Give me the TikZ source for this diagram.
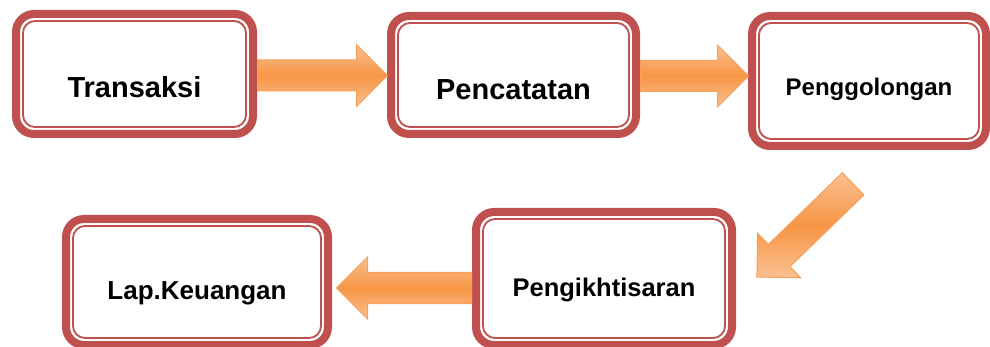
\documentclass[tikz,border=0pt]{standalone}
\usepackage{fontspec}
\setmainfont{Liberation Sans}
\usepackage{xcolor}
\usepackage{tikz}
\usetikzlibrary{shapes.arrows}
\definecolor{boxred}{HTML}{C0504D}
\definecolor{arrowdark}{HTML}{F79646}
\definecolor{arrowlight}{HTML}{FAC090}
\definecolor{arrowedge}{HTML}{F8A05A}
\tikzset{
    stage/.style={shape=rectangle, draw=boxred, line width=8pt, rounded corners=18pt, fill=white},
    stageinner/.style={draw=boxred, line width=1.8pt, rounded corners=12pt},
    stagetext/.style={text=black, inner sep=2pt},
    flow/.style={shape=single arrow, draw=arrowedge, line width=1pt, inner sep=15pt,
        single arrow head extend=15.5pt, single arrow tip angle=90,
        top color=arrowlight, bottom color=arrowlight, middle color=arrowdark,
        sloped, allow upside down, pos=0, anchor=tail}}

\begin{document}
\begin{tikzpicture}[x=1pt, y=-1pt]

            \useasboundingbox (0,0) rectangle (990,347);

            \node[stage, minimum width=237pt, minimum height=120pt, label={[stagetext, font=\bfseries\fontsize{29}{30}\selectfont, yshift=-13.5pt]center:Transaksi}] (trans) at (134.5,74) {};
            \node[stage, minimum width=245pt, minimum height=118pt, label={[stagetext, font=\bfseries\fontsize{29}{30}\selectfont, yshift=-14.5pt]center:Pencatatan}] (catat) at (513.5,75) {};
            \node[stage, minimum width=234pt, minimum height=130pt, label={[stagetext, font=\bfseries\fontsize{24}{25}\selectfont, yshift=-7.9pt]center:Penggolongan}] (golong) at (869,81) {};
            \node[stage, minimum width=256pt, minimum height=133pt, label={[stagetext, font=\bfseries\fontsize{25.5}{26}\selectfont, yshift=-11pt]center:Pengikhtisaran}] (ikhtisar) at (604,278.5) {};
            \node[stage, minimum width=262pt, minimum height=126pt, label={[stagetext, font=\bfseries\fontsize{26}{27}\selectfont, yshift=-11.6pt]center:Lap.Keuangan}] (lapkeu) at (197,282) {};

            \foreach \n in {trans,catat,golong,ikhtisar,lapkeu}
                \draw[stageinner] ([shift={(11,11)}]\n.north west) rectangle ([shift={(-11,-11)}]\n.south east);

            \coordinate (d1) at (853.5,183.5);
            \coordinate (d2) at (757,277);

            \path ([yshift=-1.5pt]trans.east) -- ([yshift=-1.5pt]trans.east -| catat.west) node[flow, minimum height=130pt] (f1) {};
            \path ([yshift=-1pt]catat.east) -- ([yshift=-1pt]catat.east -| golong.west) node[flow, minimum height=108pt] (f2) {};
            \path (d1) -- (d2) node[flow, minimum height=134pt] (f3) {};
            \path ([yshift=-9.5pt]ikhtisar.west) -- ([yshift=-9.5pt]ikhtisar.west -| lapkeu.east) node[flow, minimum height=135pt] (f4) {};

        \end{tikzpicture}
\end{document}
